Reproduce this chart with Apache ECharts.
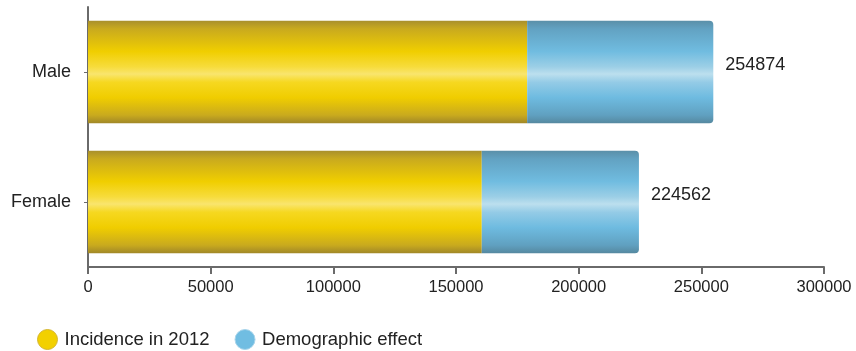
<!DOCTYPE html>
<html>
<head>
<meta charset="utf-8">
<script src="https://cdn.jsdelivr.net/npm/echarts@6/dist/echarts.min.js"></script>
<style>html,body{margin:0;padding:0;background:#fff}#c{width:856px;height:351px}</style>
</head>
<body>
<div id="c"></div>
<script>
var categories = ['Female', 'Male'];
var incidence2012 = [160500, 179000];
var demographicEffect = [64062, 75874];
var totals = [224562, 254874];
var xTicks = [0, 50000, 100000, 150000, 200000, 250000, 300000];
var seriesNames = ['Incidence in 2012', 'Demographic effect'];

function grad(stops) {
  return new echarts.graphic.LinearGradient(0, 0, 0, 1, stops.map(function (s) { return { offset: s[0], color: s[1] }; }));
}
var yellowGrad = grad([[0, '#a88f2c'], [0.08, '#c9aa1e'], [0.3, '#f0ce00'], [0.45, '#f7dc3c'], [0.52, '#f9e56e'], [0.6, '#f6d820'], [0.75, '#f0cd00'], [0.92, '#c9aa1e'], [1, '#a08728']]);
var blueGrad = grad([[0, '#5a8fa8'], [0.08, '#62a2c2'], [0.3, '#70bce0'], [0.45, '#9ccfe6'], [0.52, '#bcdfee'], [0.6, '#94cbe6'], [0.75, '#6ebbe0'], [0.92, '#60a0c0'], [1, '#55889f']]);

var chart = echarts.init(document.getElementById('c'), null, { renderer: 'canvas' });
chart.setOption({
  animation: false,
  textStyle: { fontFamily: 'Liberation Sans, Arial, sans-serif' },
  grid: { left: 88, right: 32, top: 7, bottom: 84, containLabel: false },
  legend: {
    left: 32, top: 324,
    itemWidth: 20, itemHeight: 20, itemGap: 25,
    icon: 'circle',
    textStyle: { fontSize: 18.5, color: '#222', fontFamily: 'Liberation Sans, Arial, sans-serif', padding: [0, 0, 0, 2] },
    data: [
      { name: seriesNames[0], itemStyle: { color: '#f2d000', borderColor: '#d4b530', borderWidth: 1 } },
      { name: seriesNames[1], itemStyle: { color: '#70bde2', borderColor: '#a8d4ea', borderWidth: 1 } }
    ]
  },
  xAxis: {
    type: 'value', min: xTicks[0], max: xTicks[xTicks.length - 1], interval: 50000,
    axisLine: { show: true, lineStyle: { color: '#6a6a6a', width: 2 } },
    axisTick: { show: true, length: 7, lineStyle: { color: '#6a6a6a', width: 2 } },
    splitLine: { show: false },
    axisLabel: { fontSize: 16.5, color: '#222', margin: 12, formatter: function (v) { return String(v); } }
  },
  yAxis: {
    type: 'category', data: categories,
    axisLine: { show: true, lineStyle: { color: '#6a6a6a', width: 2 } },
    axisTick: { show: true, alignWithLabel: true, length: 4, lineStyle: { color: '#6a6a6a', width: 1 } },
    axisLabel: { fontSize: 18, color: '#222', margin: 17 }
  },
  series: [
    {
      name: seriesNames[0], type: 'bar', stack: 'a', data: incidence2012,
      barCategoryGap: '21%',
      itemStyle: { color: yellowGrad }
    },
    {
      name: seriesNames[1], type: 'bar', stack: 'a', data: demographicEffect,
      itemStyle: { color: blueGrad, borderRadius: [0, 4, 4, 0] },
      label: {
        show: true, position: 'right', distance: 12, fontSize: 18, color: '#222', offset: [0, -7],
        formatter: function (p) { return String(totals[p.dataIndex]); }
      }
    }
  ]
});
</script>
</body>
</html>
